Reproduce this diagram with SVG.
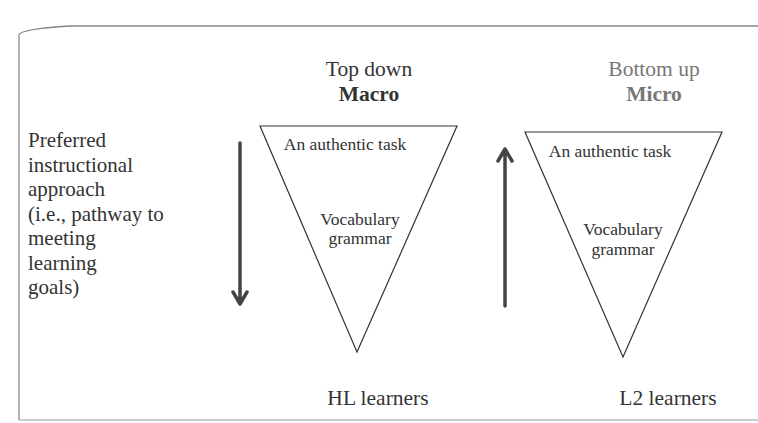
<svg xmlns="http://www.w3.org/2000/svg" width="758" height="423" viewBox="0 0 758 423">
<style>
text{font-family:'Liberation Serif','DejaVu Serif',serif;fill:#333}
.hd{font-size:21.5px;text-anchor:middle}
.b{font-weight:bold}
.gr{fill:#777}
.in{font-size:17.5px;text-anchor:middle}
.lt{font-size:21px}
.tri{fill:none;stroke:#333;stroke-width:1.2}
.arr{fill:none;stroke:#444;stroke-width:3.5;stroke-linecap:round;stroke-linejoin:round}
.frame{fill:none;stroke:#888;stroke-width:1.3}
</style>
<rect width="758" height="423" fill="#fff"/>
<path class="frame" d="M19 420 V35 Q20 29 70 26 H758"/>
<line x1="19" y1="420" x2="758" y2="420" stroke="#999" stroke-width="1.2"/>
<g id="left-label">
<text class="lt" x="28" y="147">Preferred</text>
<text class="lt" x="28" y="171.5">instructional</text>
<text class="lt" x="28" y="196">approach</text>
<text class="lt" x="28" y="220.5">(i.e., pathway to</text>
<text class="lt" x="28" y="245">meeting</text>
<text class="lt" x="28" y="269.5">learning</text>
<text class="lt" x="28" y="294">goals)</text>
</g>
<g id="top-down">
<text class="hd" x="369" y="76">Top down</text>
<text class="hd b" x="369" y="101">Macro</text>
</g>
<g id="bottom-up">
<text class="hd gr" x="654" y="76">Bottom up</text>
<text class="hd b gr" x="654" y="101">Micro</text>
</g>
<g id="macro-triangle">
<polygon class="tri" points="260,126 457,126 357,352"/>
<text class="in" x="345" y="150">An authentic task</text>
<text class="in" x="360" y="225">Vocabulary</text>
<text class="in" x="360" y="244">grammar</text>
</g>
<g id="micro-triangle">
<polygon class="tri" points="525,132 722,132 623,357"/>
<text class="in" x="610" y="157">An authentic task</text>
<text class="in" x="623" y="235">Vocabulary</text>
<text class="in" x="623" y="255">grammar</text>
</g>
<g id="connectors">
<path class="arr" d="M240 143 V304 M233 292 L240 304 L247 292"/>
<path class="arr" d="M505 306 V149 M498 161 L505 149 L512 161"/>
</g>
<g id="learners">
<text class="hd" x="378" y="405">HL learners</text>
<text class="hd" x="668" y="405">L2 learners</text>
</g>
</svg>
